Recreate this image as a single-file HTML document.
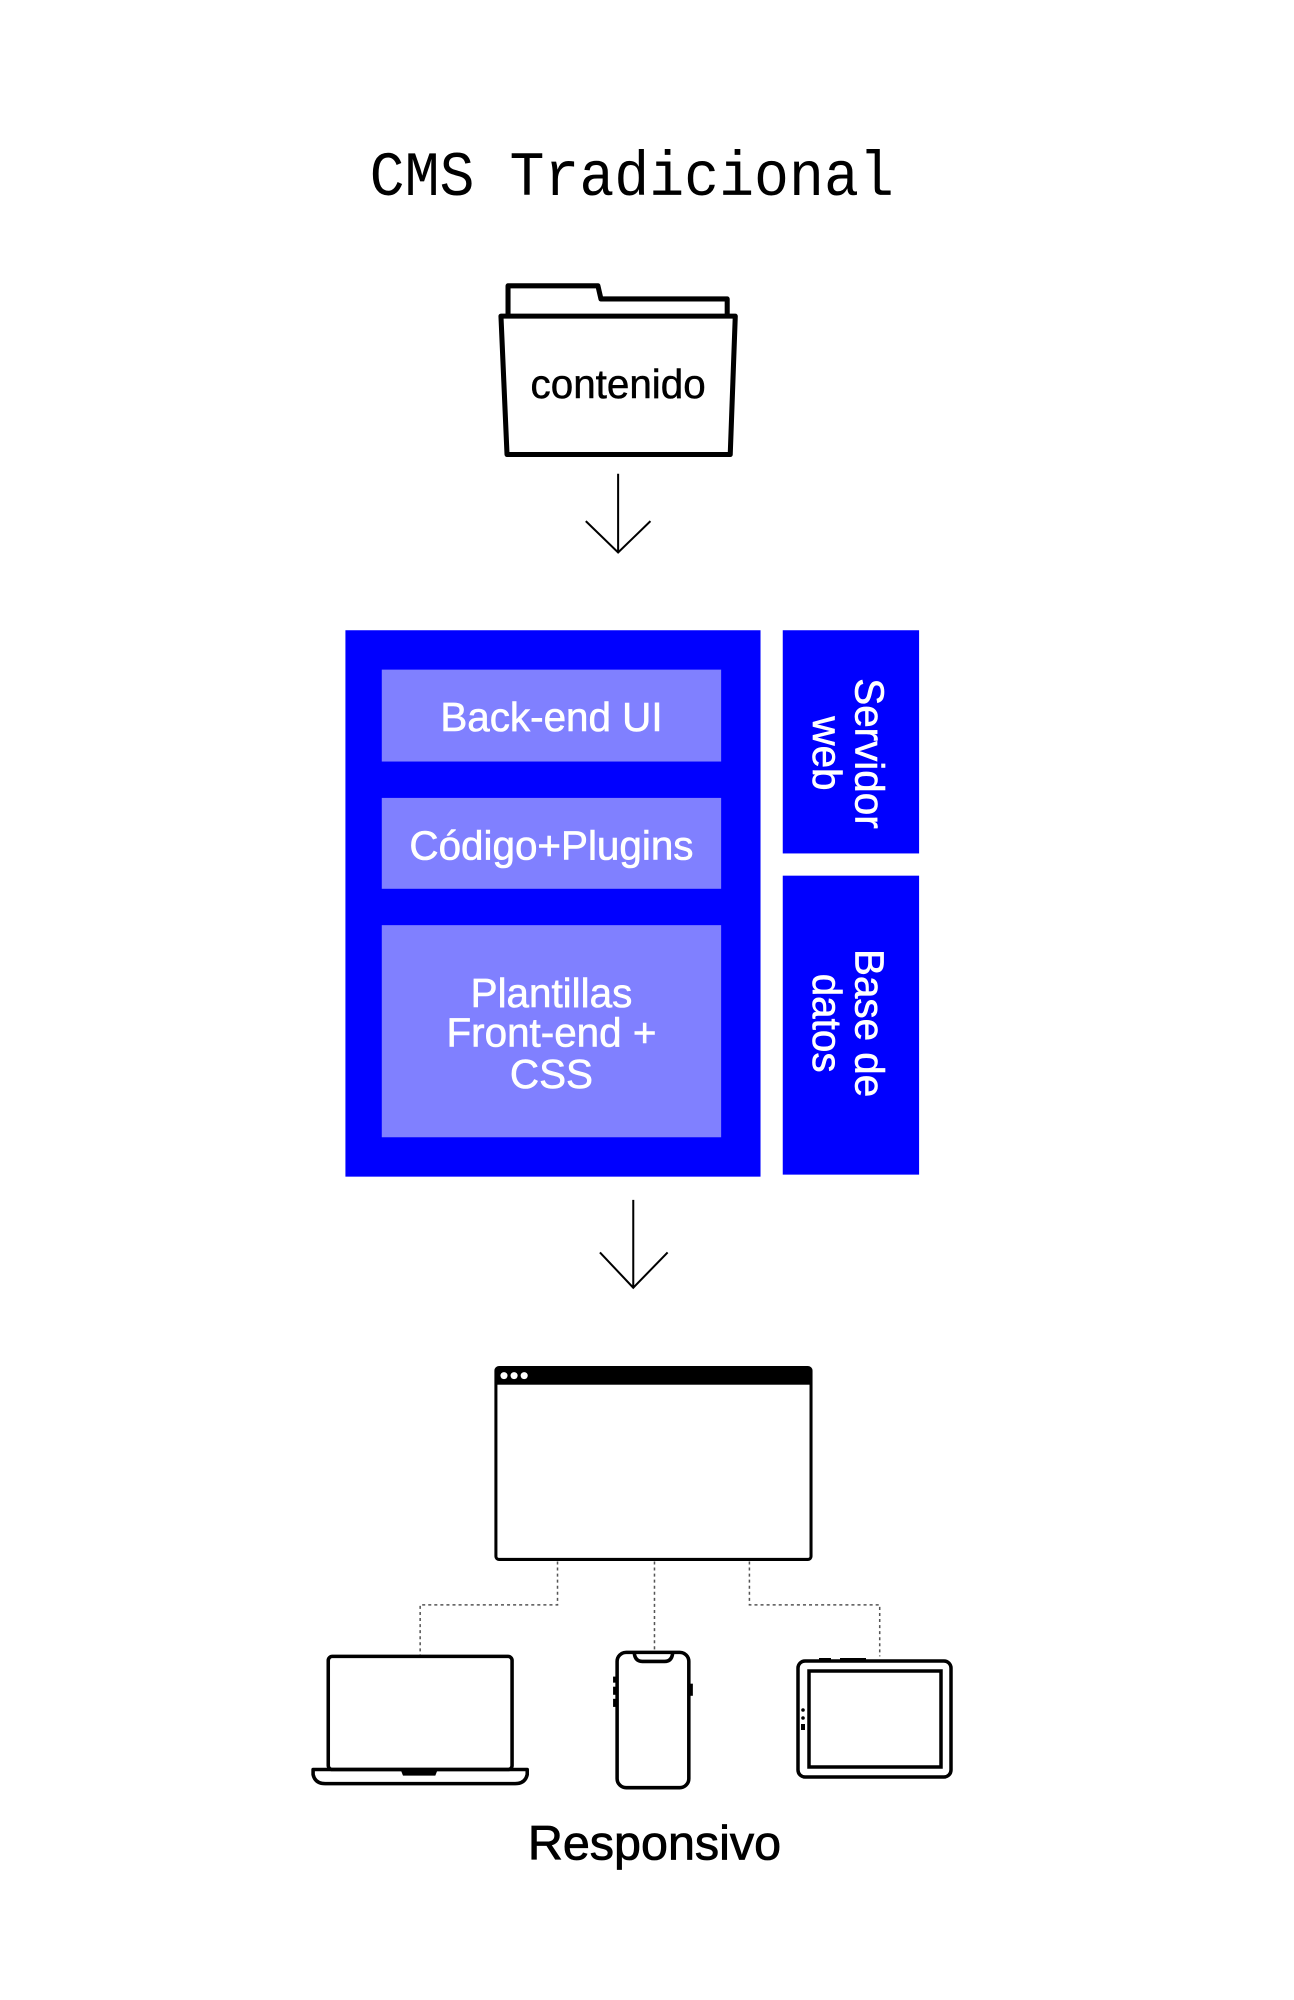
<!DOCTYPE html>
<html><head><meta charset="utf-8"><style>
html,body{margin:0;padding:0;background:#fff;}
svg{display:block;}
</style></head><body>
<svg width="1294" height="2000" viewBox="0 0 1294 2000" xmlns="http://www.w3.org/2000/svg">
<rect width="1294" height="2000" fill="#fff"/>
<g transform="scale(1.01)">
<text x="366" y="193" font-family="Liberation Mono, monospace" font-size="62" textLength="519" lengthAdjust="spacingAndGlyphs" fill="#000">CMS Tradicional</text>
<!-- folder -->
<g fill="none" stroke="#000" stroke-width="5" stroke-linejoin="round">
<path d="M503 313 L503 283 L592 283 L595 296 L720 296 L720 313"/>
<path d="M496 313 L728 313 L723 450 L502 450 Z"/>
</g>
<text x="612" y="394" font-family="Liberation Sans, sans-serif" font-size="40" text-anchor="middle" fill="#000" stroke="#000" stroke-width="0.5">contenido</text>
<g fill="none" stroke="#000" stroke-width="2">
<path d="M612 469 L612 547 M580 516 L612 547 L644 516"/>
<path d="M627 1188 L627 1275 M594 1240 L627 1275 L661 1240"/>
</g>
<!-- blue block -->
<rect x="342" y="624" width="411" height="541" fill="#0000ff"/>
<rect x="378" y="663" width="336" height="91" fill="#8080ff"/>
<rect x="378" y="790" width="336" height="90" fill="#8080ff"/>
<rect x="378" y="916" width="336" height="210" fill="#8080ff"/>
<rect x="775" y="624" width="135" height="221" fill="#0000ff"/>
<rect x="775" y="867" width="135" height="296" fill="#0000ff"/>
<g font-family="Liberation Sans, sans-serif" font-size="40" fill="#fff" stroke="#fff" stroke-width="0.6" text-anchor="middle">
<text x="546" y="724">Back-end UI</text>
<text x="546" y="851">Código+Plugins</text>
<text x="546" y="997">Plantillas</text>
<text x="546" y="1036">Front-end +</text>
<text x="546" y="1077">CSS</text>
<g transform="translate(847 746) rotate(90)"><text x="0" y="0">Servidor</text><text x="0" y="42">web</text></g>
<g transform="translate(847 1013) rotate(90)"><text x="0" y="0">Base de</text><text x="0" y="42">datos</text></g>
</g>
<!-- browser -->
<rect x="491" y="1354" width="312" height="190" rx="3" fill="none" stroke="#000" stroke-width="3"/>
<rect x="491" y="1354" width="312" height="17" fill="#000"/>
<circle cx="499" cy="1362" r="3.5" fill="#fff"/><circle cx="509" cy="1362" r="3.5" fill="#fff"/><circle cx="519" cy="1362" r="3.5" fill="#fff"/>
<!-- dashed -->
<g fill="none" stroke="#555" stroke-width="1.5" stroke-dasharray="3 3">
<path d="M552 1546 L552 1589 L416 1589 L416 1639"/>
<path d="M648 1546 L648 1637"/>
<path d="M742 1546 L742 1589 L871 1589 L871 1640"/>
</g>
<!-- laptop -->
<g fill="none" stroke="#000" stroke-width="3.5" stroke-linejoin="round">
<rect x="325" y="1640" width="182" height="112" rx="4"/>
<path d="M310 1752 L522 1752 L522 1757 Q520 1766 510 1766 L322 1766 Q312 1766 310 1757 Z"/>
</g>
<path d="M397 1753 L433 1753 L431 1758 L399 1758 Z" fill="#000"/>
<!-- phone -->
<g fill="none" stroke="#000" stroke-width="3.5">
<rect x="611" y="1636" width="71" height="134" rx="9"/>
<path d="M628 1637 Q629 1645 636 1645 L658 1645 Q665 1645 666 1637"/>
</g>
<g fill="#000"><rect x="607" y="1660" width="3" height="6"/><rect x="607" y="1670" width="3" height="8"/><rect x="607" y="1682" width="3" height="8"/><rect x="683" y="1667" width="3" height="12"/></g>
<text x="648" y="1841" font-family="Liberation Sans, sans-serif" font-size="48" text-anchor="middle" fill="#000" stroke="#000" stroke-width="0.8">Responsivo</text>
</g>
<!-- tablet -->
<g fill="none" stroke="#000" stroke-width="3.5">
<rect x="798" y="1661" width="153" height="116" rx="7"/>
<rect x="809" y="1671" width="132" height="96"/>
</g>
<g fill="#000"><rect x="819" y="1658" width="12" height="3"/><rect x="840" y="1658" width="26" height="3"/><circle cx="803" cy="1710" r="1.8"/><circle cx="803" cy="1718" r="1.8"/><rect x="801" y="1724" width="4" height="6"/></g>
</svg>
</body></html>
